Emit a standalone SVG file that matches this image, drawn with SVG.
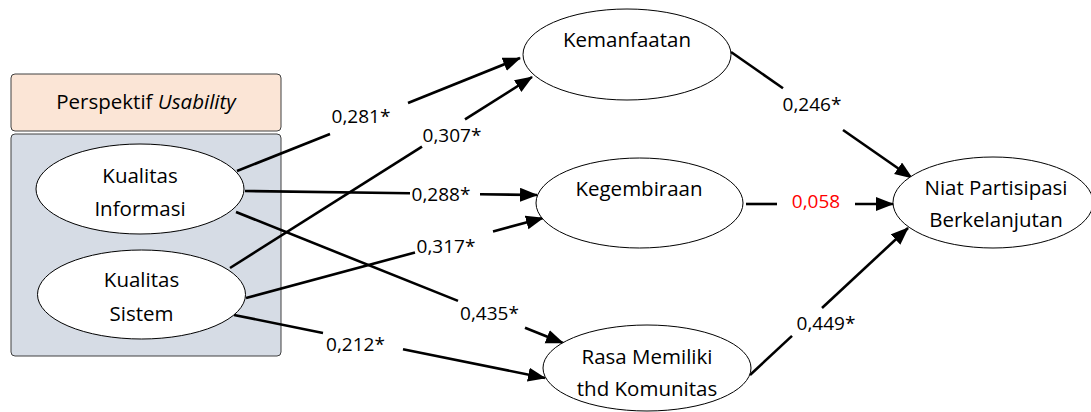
<svg xmlns="http://www.w3.org/2000/svg" width="1091" height="412" viewBox="0 0 1091 412">
<style>
.node{fill:#fff;stroke:#000;stroke-width:1}
.t{font-family:"Open Sans","Liberation Sans",sans-serif;font-size:20.5px;fill:#000;text-anchor:middle}
.lb{font-family:"Open Sans","Liberation Sans",sans-serif;font-size:19px;fill:#000;text-anchor:middle}
.red{fill:#ff0000}
.c{stroke:#000;stroke-width:2.6;fill:none}
.a{marker-end:url(#arr)}
</style>
<defs>
<marker id="arr" markerUnits="userSpaceOnUse" markerWidth="20" markerHeight="16" refX="17" refY="7" orient="auto">
<path d="M0,0 L18,7 L0,14 z" fill="#000"/>
</marker>
</defs>
<rect width="1091" height="412" fill="#fff"/>
<g id="group-usability">
<rect x="11" y="74" width="270" height="57" rx="4" fill="#fbe5d6" stroke="#404040" stroke-width="1"/>
<text class="t" x="146" y="109">Perspektif <tspan font-style="italic">Usability</tspan></text>
<rect x="11" y="134" width="270" height="222" rx="4" fill="#d6dce5" stroke="#404040" stroke-width="1"/>
</g>
<g id="connectors">
<line class="c" x1="237" y1="171" x2="330" y2="134"/>
<line class="c a" x1="408" y1="103" x2="520" y2="58"/>
<line class="c" x1="230" y1="268" x2="422" y2="146.6"/>
<line class="c a" x1="465" y1="119.4" x2="532" y2="77"/>
<line class="c" x1="245" y1="191" x2="410" y2="193.3"/>
<line class="c a" x1="480" y1="194.2" x2="537" y2="195"/>
<line class="c" x1="246" y1="298" x2="415" y2="252.5"/>
<line class="c a" x1="493" y1="231.5" x2="543" y2="218"/>
<line class="c" x1="236" y1="212" x2="458" y2="300.9"/>
<line class="c a" x1="525" y1="327.8" x2="563" y2="343"/>
<line class="c" x1="234" y1="315" x2="323" y2="333"/>
<line class="c a" x1="403" y1="349.2" x2="545" y2="378"/>
<line class="c" x1="731" y1="52" x2="783" y2="88.2"/>
<line class="c a" x1="843" y1="130" x2="912" y2="178"/>
<line class="c" x1="746" y1="204" x2="777" y2="204"/>
<line class="c a" x1="855" y1="204" x2="893" y2="204"/>
<line class="c" x1="750" y1="375" x2="792" y2="335.9"/>
<line class="c a" x1="822" y1="308" x2="908" y2="228"/>
<text class="lb" x="361" y="123">0,281*</text>
<text class="lb" x="452" y="141.5">0,307*</text>
<text class="lb" x="441" y="200.5">0,288*</text>
<text class="lb" x="446" y="252.5">0,317*</text>
<text class="lb" x="489.5" y="320">0,435*</text>
<text class="lb" x="355.5" y="350.5">0,212*</text>
<text class="lb" x="812" y="110.5">0,246*</text>
<text class="lb red" x="816" y="208">0,058</text>
<text class="lb" x="826" y="330">0,449*</text>
</g>
<g id="node-kualitas-informasi">
<ellipse class="node" cx="140" cy="189" rx="104" ry="45"/>
<text class="t" x="140" y="183">Kualitas</text>
<text class="t" x="140" y="216">Informasi</text>
</g>
<g id="node-kualitas-sistem">
<ellipse class="node" cx="141.5" cy="294.5" rx="104" ry="44.5"/>
<text class="t" x="141.5" y="286.5">Kualitas</text>
<text class="t" x="141.5" y="320.5">Sistem</text>
</g>
<g id="node-kemanfaatan">
<ellipse class="node" cx="627" cy="54.5" rx="104" ry="45.5"/>
<text class="t" x="627" y="47">Kemanfaatan</text>
</g>
<g id="node-kegembiraan">
<ellipse class="node" cx="639.5" cy="203" rx="103.5" ry="45"/>
<text class="t" x="639" y="196">Kegembiraan</text>
</g>
<g id="node-rasa-memiliki">
<ellipse class="node" cx="647" cy="368" rx="104" ry="43"/>
<text class="t" x="647" y="364">Rasa Memiliki</text>
<text class="t" x="647" y="396">thd Komunitas</text>
</g>
<g id="node-niat">
<ellipse class="node" cx="993" cy="202.5" rx="100" ry="45.5"/>
<text class="t" x="996" y="195">Niat Partisipasi</text>
<text class="t" x="996" y="227">Berkelanjutan</text>
</g>
</svg>
